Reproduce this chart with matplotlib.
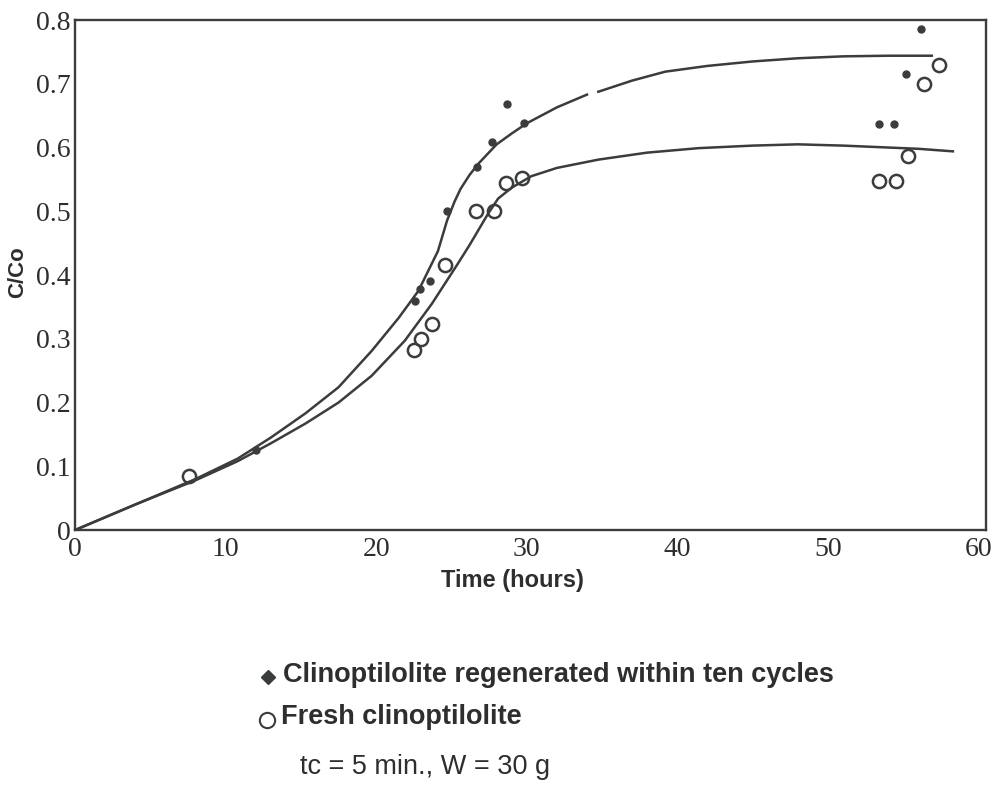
import matplotlib
matplotlib.use("Agg")
import matplotlib.pyplot as plt
from matplotlib.lines import Line2D

# =========================
# Data
# =========================

# measured points
regen_t = [12.0, 22.6, 22.9, 23.6, 24.7, 26.7, 27.7, 28.7, 29.8, 53.4, 54.4, 55.2, 56.2]
regen_c = [0.125, 0.36, 0.378, 0.39, 0.50, 0.569, 0.609, 0.669, 0.639, 0.637, 0.637, 0.716, 0.786]

fresh_t = [7.6, 22.5, 23.0, 23.7, 24.6, 26.6, 27.8, 28.6, 29.7, 53.4, 54.5, 55.3, 56.4, 57.4]
fresh_c = [0.084, 0.283, 0.30, 0.323, 0.416, 0.50, 0.50, 0.544, 0.552, 0.547, 0.547, 0.586, 0.70, 0.73]

# fitted curves (upper one has a small break near t = 34)
fit_regen_t1 = [0, 4, 8, 10.8, 13, 15.3, 17.5, 19.7, 21.5, 22.8, 24.1, 24.7, 25.2, 25.6,
                26.2, 26.8, 28, 29, 30, 32, 34]
fit_regen_c1 = [0, 0.04, 0.08, 0.112, 0.145, 0.183, 0.224, 0.281, 0.333, 0.375, 0.4375,
                0.485, 0.515, 0.535, 0.557, 0.575, 0.605, 0.622, 0.638, 0.663, 0.683]
fit_regen_t2 = [34.75, 37, 39.2, 42, 45, 48, 51, 54, 56.9]
fit_regen_c2 = [0.6875, 0.705, 0.719, 0.728, 0.735, 0.74, 0.743, 0.744, 0.744]

fit_fresh_t = [0, 4, 8, 10.8, 13, 15.3, 17.5, 19.7, 21.9, 23.7, 25.4, 26.2, 27.4, 28.1, 29,
               30.3, 32, 34.75, 38, 41.4, 45, 48, 51, 54, 56, 58.3]
fit_fresh_c = [0, 0.04, 0.078, 0.108, 0.136, 0.167, 0.2, 0.242, 0.297, 0.355, 0.417, 0.447,
               0.495, 0.52, 0.537, 0.555, 0.568, 0.581, 0.592, 0.599, 0.603, 0.605, 0.603,
               0.600, 0.598, 0.594]

x_ticks = [0, 10, 20, 30, 40, 50, 60]
y_ticks = [0, 0.1, 0.2, 0.3, 0.4, 0.5, 0.6, 0.7, 0.8]
y_ticklabels = ["0", "0.1", "0.2", "0.3", "0.4", "0.5", "0.6", "0.7", "0.8"]

legend_regen = "Clinoptilolite regenerated within ten cycles"
legend_fresh = "Fresh clinoptilolite"
note = "tc = 5 min., W = 30 g"

# =========================
# Figure
# =========================

INK = "#3a3d3c"
TXT = "#2e2e2e"
SANS = ["Liberation Sans", "DejaVu Sans"]
SERIF = ["Liberation Serif", "DejaVu Serif"]

fig = plt.figure(figsize=(9.98, 7.85), dpi=100)
ax = fig.add_axes([0.0752, 0.3248, 0.9128, 0.6497])

ax.plot(fit_regen_t1, fit_regen_c1, color=INK, lw=1.8)
ax.plot(fit_regen_t2, fit_regen_c2, color=INK, lw=1.8)
ax.plot(fit_fresh_t, fit_fresh_c, color=INK, lw=1.8)

ax.plot(regen_t, regen_c, "o", color=INK, ms=5, mec=INK)
ax.plot(fresh_t, fresh_c, "o", mfc="none", mec=INK, ms=9.5, mew=1.8)

ax.set_xlim(0, 60.5)
ax.set_ylim(0, 0.8)
ax.set_xticks(x_ticks)
ax.set_yticks(y_ticks)
ax.set_yticklabels(y_ticklabels)
ax.tick_params(axis="y", length=0, pad=3, colors=TXT)
ax.tick_params(axis="x", length=0, pad=5, colors=TXT)
for lab in ax.get_xticklabels() + ax.get_yticklabels():
    lab.set_family(SERIF)
    lab.set_fontsize(20)

for side in ax.spines.values():
    side.set_color(INK)
    side.set_linewidth(1.7)

fig.text(512 / 998, 1 - 581 / 785, "Time (hours)", family=SANS, fontsize=17,
         fontweight="bold", color=TXT, ha="center", va="center")
fig.text(18 / 998, 1 - 272 / 785, "C/Co", family=SANS, fontsize=16,
         fontweight="bold", color=TXT, rotation=90, ha="center", va="center")

# =========================
# Legend below the chart
# =========================

fig.add_artist(Line2D([268 / 998], [1 - 677 / 785], marker="D", ms=7, color=INK,
                      transform=fig.transFigure))
fig.add_artist(Line2D([267 / 998], [1 - 720 / 785], marker="o", ms=11, mfc="none",
                      mec=INK, mew=1.5, transform=fig.transFigure))
fig.text(283 / 998, 1 - 675 / 785, legend_regen, family=SANS, fontsize=19.5,
         fontweight="bold", color=TXT, va="center")
fig.text(281 / 998, 1 - 717 / 785, legend_fresh, family=SANS, fontsize=19.5,
         fontweight="bold", color=TXT, va="center")
fig.text(300 / 998, 1 - 767 / 785, note, family=SANS, fontsize=19.5,
         color=TXT, va="center")

fig.savefig("out.png", dpi=100, facecolor="white")
